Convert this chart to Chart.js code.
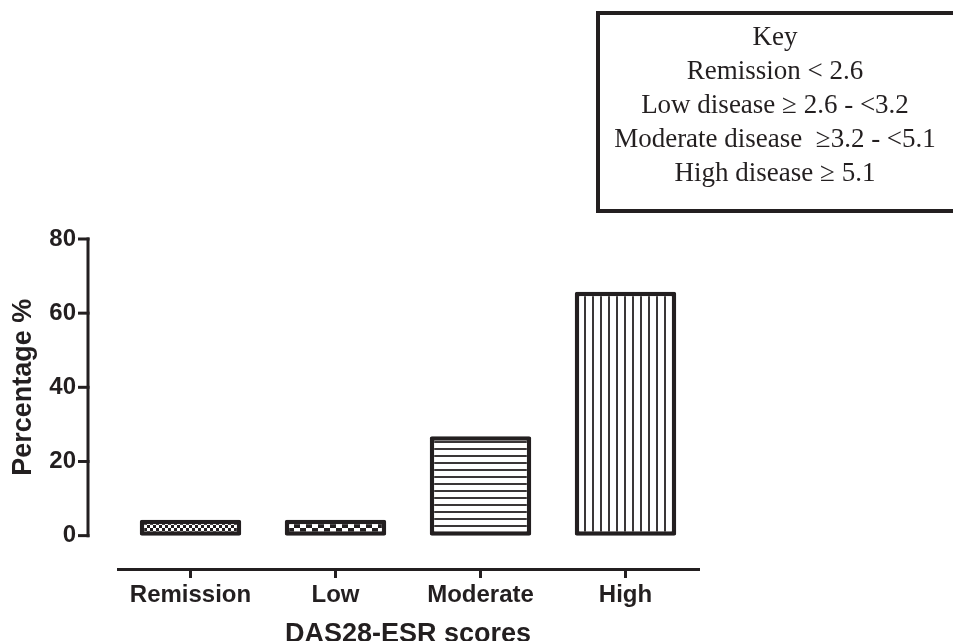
<!DOCTYPE html>
<html><head><meta charset="utf-8">
<script src="https://cdn.jsdelivr.net/npm/chart.js@4.4.0/dist/chart.umd.min.js"></script>
<style>
html,body{margin:0;padding:0;background:#fff;width:953px;height:641px;overflow:hidden}
#wrap{position:relative;width:953px;height:641px}
#key{position:absolute;left:596px;top:11px;width:400px;height:194px;border:4px solid #231f20;border-right:none;font-family:"Liberation Serif","Times New Roman",serif;font-size:27px;color:#231f20;}
#key .t{width:350px;text-align:center;padding-top:4px;line-height:34px;white-space:pre;}
</style></head>
<body><div id="wrap"><canvas id="c" width="953" height="641"></canvas>
<div id="key"><div class="t" id="keyText"></div></div></div>
<script>
const categories = ['Remission', 'Low', 'Moderate', 'High'];
const percentages = [4.3, 4.3, 26.8, 65.8];
const yTicks = [0, 20, 40, 60, 80];
const yTitle = 'Percentage %';
const xTitle = 'DAS28-ESR scores';
const keyLines = ['Key', 'Remission < 2.6', 'Low disease \u2265 2.6 - <3.2', 'Moderate disease  \u22653.2 - <5.1', 'High disease \u2265 5.1'];

const ink = '#231f20';
document.getElementById('keyText').textContent = keyLines.join('\n');

function makePattern(kind){
  const c = document.createElement('canvas');
  const g = c.getContext('2d');
  if (kind === 'fine') {
    c.width = c.height = 6;
    g.fillStyle = '#fff'; g.fillRect(0,0,6,6);
    g.fillStyle = ink; g.fillRect(0,0,3,3); g.fillRect(3,3,3,3);
  } else if (kind === 'coarse') {
    c.width = c.height = 12;
    g.fillStyle = '#fff'; g.fillRect(0,0,12,12);
    g.fillStyle = ink; g.fillRect(0,0,6,6); g.fillRect(6,6,6,6);
  } else if (kind === 'horiz') {
    c.width = 8; c.height = 7;
    g.fillStyle = '#fff'; g.fillRect(0,0,8,7);
    g.fillStyle = '#3a3637'; g.fillRect(0,0,8,2);
  } else {
    c.width = 8; c.height = 8;
    g.fillStyle = '#fff'; g.fillRect(0,0,8,8);
    g.fillStyle = '#3a3637'; g.fillRect(0,0,2,8);
  }
  return g.createPattern(c, 'repeat');
}
const fills = [makePattern('fine'), makePattern('coarse'), makePattern('horiz'), makePattern('vert')];

const prismY = {
  id: 'prismY',
  afterDraw(chart){
    const {ctx, chartArea, scales:{y}} = chart;
    const x0 = chartArea.left - 30;
    const pTop = y.getPixelForValue(yTicks[yTicks.length-1]);
    const pBot = y.getPixelForValue(yTicks[0]);
    ctx.save();
    ctx.strokeStyle = ink; ctx.lineWidth = 3; ctx.lineCap = 'butt';
    ctx.beginPath(); ctx.moveTo(x0, pBot + 1.5); ctx.lineTo(x0, pTop - 1.5); ctx.stroke();
    yTicks.forEach(v => {
      const p = y.getPixelForValue(v);
      ctx.beginPath(); ctx.moveTo(x0 - 10, p); ctx.lineTo(x0 + 1.5, p); ctx.stroke();
    });
    ctx.translate(24, (pTop + pBot) / 2);
    ctx.rotate(-Math.PI / 2);
    ctx.font = 'bold 27px "Liberation Sans", Arial, sans-serif';
    ctx.fillStyle = ink; ctx.textAlign = 'center'; ctx.textBaseline = 'middle';
    ctx.fillText(yTitle, 0, 0);
    ctx.restore();
  }
};

new Chart(document.getElementById('c'), {
  type: 'bar',
  data: {
    labels: categories,
    datasets: [{
      data: percentages,
      backgroundColor: fills,
      borderColor: ink,
      borderWidth: 4.5,
      borderSkipped: false,
      borderRadius: 2,
      barPercentage: 0.7,
      categoryPercentage: 1
    }]
  },
  plugins: [prismY],
  options: {
    responsive: false,
    devicePixelRatio: 1,
    animation: false,
    layout: { padding: { top: 239, right: 255, left: 0, bottom: 0 } },
    plugins: { legend: { display: false }, tooltip: { enabled: false } },
    scales: {
      x: {
        type: 'category',
        afterFit: s => { s.height = 72; },
        border: { display: true, color: ink, width: 3 },
        grid: { display: true, drawOnChartArea: false, drawTicks: true, tickLength: 9, offset: false, color: ink, lineWidth: 3 },
        ticks: { color: ink, padding: 3, font: { family: '"Liberation Sans", Arial, sans-serif', size: 24, weight: 'bold' } },
        title: { display: true, text: xTitle, color: ink, padding: 0, font: { family: '"Liberation Sans", Arial, sans-serif', size: 27, weight: 'bold', lineHeight: 0.48 } }
      },
      y: {
        min: -9, max: 80,
        afterFit: s => { s.width = 118; },
        afterBuildTicks: s => { s.ticks = yTicks.map(v => ({ value: v })); },
        border: { display: false },
        grid: { display: false, drawTicks: false },
        ticks: { color: ink, padding: 42, font: { family: '"Liberation Sans", Arial, sans-serif', size: 24, weight: 'bold' } },
        title: { display: false }
      }
    }
  }
});
</script>
</body></html>
